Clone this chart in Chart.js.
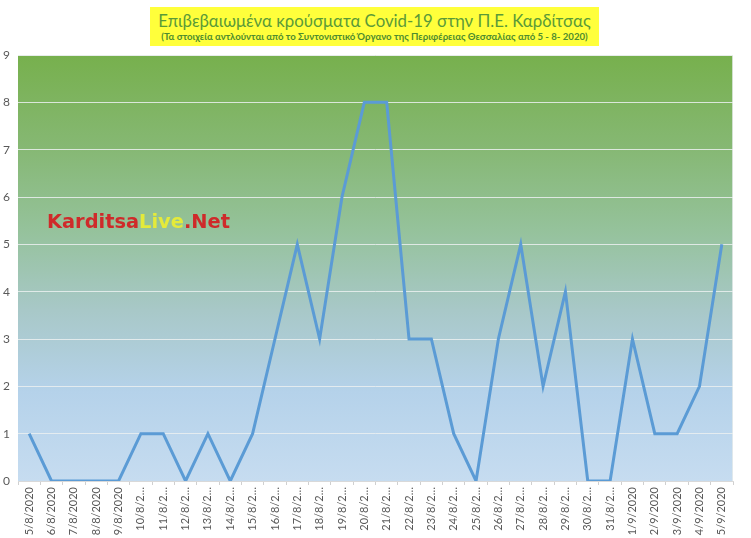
<!DOCTYPE html>
<html>
<head>
<meta charset="utf-8">
<script src="https://cdn.jsdelivr.net/npm/chart.js@4/dist/chart.umd.min.js"></script>
<style>
  body { margin: 0; background: #fff; }
  #wrap { position: relative; width: 751px; height: 538px; }
  #titleBox {
    position: absolute; left: 150px; top: 7px; width: 449px; height: 39px;
    background: #ffff3b; text-align: center; font-family: Lato, "Open Sans", sans-serif;
    white-space: nowrap; overflow: hidden;
  }
  #titleBox .t1 { color: #5a9a38; font-size: 16.8px; line-height: 20px; padding-top: 4px; }
  #titleBox .t2 { color: #4e8c2e; font-size: 9.6px; font-weight: bold; line-height: 12px; }
  #brand {
    position: absolute; left: 47px; top: 210px;
    font-family: "DejaVu Sans", sans-serif; font-weight: bold; font-size: 19.4px;
    color: #cf2a2a;
  }
  #brand span { color: #e4ea3a; }
</style>
</head>
<body>
<div id="wrap">
  <canvas id="covidChart" width="751" height="538"></canvas>
  <div id="titleBox">
    <div class="t1">Επιβεβαιωμένα κρούσματα Covid-19 στην Π.Ε. Καρδίτσας</div>
    <div class="t2">(Τα στοιχεία αντλούνται από το Συντονιστικό Όργανο της Περιφέρειας Θεσσαλίας από 5 - 8- 2020)</div>
  </div>
  <div id="brand">Karditsa<span>Live</span>.Net</div>
</div>
<script>
const days = [
  '5/8/2020', '6/8/2020', '7/8/2020', '8/8/2020', '9/8/2020', '10/8/2020', '11/8/2020', '12/8/2020',
  '13/8/2020', '14/8/2020', '15/8/2020', '16/8/2020', '17/8/2020', '18/8/2020', '19/8/2020', '20/8/2020',
  '21/8/2020', '22/8/2020', '23/8/2020', '24/8/2020', '25/8/2020', '26/8/2020', '27/8/2020', '28/8/2020',
  '29/8/2020', '30/8/2020', '31/8/2020', '1/9/2020', '2/9/2020', '3/9/2020', '4/9/2020', '5/9/2020'
];
const cases = [1, 0, 0, 0, 0, 1, 1, 0, 1, 0, 1, 3, 5, 3, 6, 8, 8, 3, 3, 1, 0, 3, 5, 2, 4, 0, 0, 3, 1, 1, 2, 5];
const yTicks = [0, 1, 2, 3, 4, 5, 6, 7, 8, 9];

// green-to-blue fill behind the plot area
const plotBackground = {
  id: 'plotBackground',
  beforeDraw(chart) {
    const { ctx, chartArea: a } = chart;
    const g = ctx.createLinearGradient(0, a.top, 0, a.bottom);
    g.addColorStop(0, '#77b04d');
    g.addColorStop(0.22, '#86b874');
    g.addColorStop(0.41, '#95c29b');
    g.addColorStop(0.6, '#a8c8c8');
    g.addColorStop(0.79, '#b5d2ea');
    g.addColorStop(1, '#c6dcf0');
    ctx.save();
    ctx.fillStyle = g;
    ctx.fillRect(a.left, a.top, a.right - a.left, a.bottom - a.top);
    ctx.strokeStyle = 'rgba(230,235,235,0.8)';
    ctx.lineWidth = 1;
    ctx.beginPath();
    ctx.moveTo(a.left, a.top + 0.5);
    ctx.lineTo(a.right - 0.5, a.top + 0.5);
    ctx.lineTo(a.right - 0.5, a.bottom);
    ctx.stroke();
    ctx.restore();
  }
};

new Chart(document.getElementById('covidChart'), {
  type: 'line',
  data: {
    labels: days,
    datasets: [{
      data: cases,
      borderColor: '#5b9bd5',
      borderWidth: 3,
      pointRadius: 0,
      tension: 0
    }]
  },
  options: {
    responsive: false,
    animation: false,
    layout: { padding: { top: 55, right: 18, left: 0, bottom: 0 } },
    plugins: { legend: { display: false }, tooltip: { enabled: false } },
    scales: {
      x: {
        offset: true,
        afterFit(scale) { scale.height = 57; },
        grid: { display: true, drawOnChartArea: false, drawTicks: true, tickLength: 4, color: '#d0d0d0', offset: true },
        border: { color: '#d9d9d9' },
        ticks: {
          color: '#595959',
          font: { family: 'Lato, "Open Sans", sans-serif', size: 11 },
          maxRotation: 90, minRotation: 90, autoSkip: false, padding: 2,
          callback(v) {
            const s = days[v];
            return s.length > 8 ? s.slice(0, 6) + '…' : s;
          }
        }
      },
      y: {
        min: 0, max: 9,
        afterFit(scale) { scale.width = 18; },
        afterBuildTicks(scale) { scale.ticks = yTicks.map(v => ({ value: v })); },
        grid: { color: 'rgba(235,240,240,0.85)', drawTicks: false, lineWidth: 1 },
        border: { display: false },
        ticks: {
          color: '#595959',
          font: { family: 'Lato, "Open Sans", sans-serif', size: 12 },
          padding: 8
        }
      }
    }
  },
  plugins: [plotBackground]
});
</script>
</body>
</html>
